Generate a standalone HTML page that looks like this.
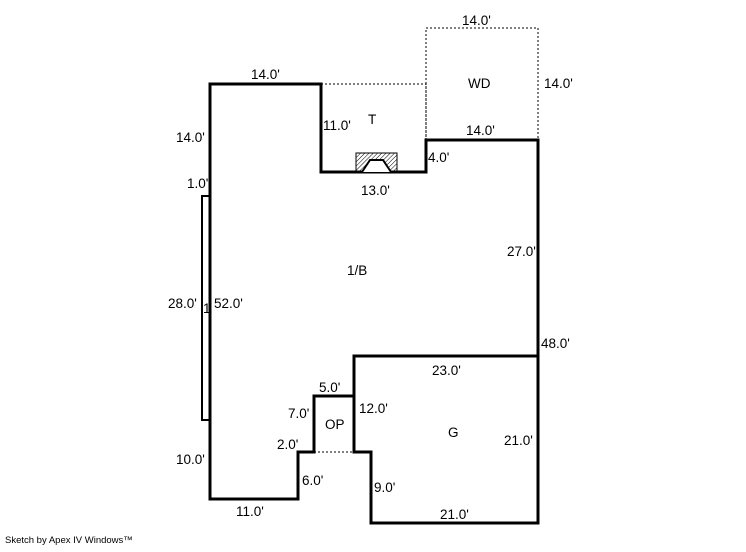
<!DOCTYPE html>
<html><head><style>
body{margin:0;background:#fff;}
svg text{font-family:"Liberation Sans",Arial,sans-serif;font-size:13.5px;fill:#000;}
</style></head><body>
<svg width="746" height="547" viewBox="0 0 746 547" xmlns="http://www.w3.org/2000/svg">
<defs><pattern id="h" width="3" height="3" patternUnits="userSpaceOnUse" patternTransform="rotate(45)"><line x1="0" y1="0" x2="0" y2="3" stroke="#000" stroke-width="1"/></pattern></defs>
<g fill="none" stroke="#000" stroke-width="1" stroke-dasharray="2,2">
<path d="M426,140 V28 H538 V140"/>
<path d="M321,84 H426 V140"/>
<path d="M314,452 H354"/>
</g>
<g fill="none" stroke="#000" stroke-width="3" stroke-linejoin="miter">
<path d="M210,84 H321 V172 H426 V140 H538 V523 H371 V452 H354 V396 H314 V452 H298 V499 H210 Z"/>
<path d="M354,396 V356 H538"/>
<rect x="202" y="196" width="8" height="224" stroke-width="2"/>
</g>
<rect x="356" y="153" width="41" height="19" fill="url(#h)" stroke="#000" stroke-width="1"/>
<path d="M362,172 L370,160 H383 L391,172" fill="#fff" stroke="#000" stroke-width="2"/>
<text x="251" y="79">14.0'</text>
<text x="176" y="142">14.0'</text>
<text x="187" y="188">1.0'</text>
<text x="168" y="308">28.0'</text>
<text x="203" y="313">1</text>
<text x="214" y="308">52.0'</text>
<text x="176" y="464">10.0'</text>
<text x="236" y="516">11.0'</text>
<text x="323" y="130">11.0'</text>
<text x="368" y="124">T</text>
<text x="361" y="195">13.0'</text>
<text x="428" y="162">4.0'</text>
<text x="462" y="25">14.0'</text>
<text x="468" y="88">WD</text>
<text x="544" y="88">14.0'</text>
<text x="466" y="135">14.0'</text>
<text x="507" y="256">27.0'</text>
<text x="347" y="275">1/B</text>
<text x="541" y="348">48.0'</text>
<text x="432" y="375">23.0'</text>
<text x="319" y="392">5.0'</text>
<text x="288" y="418">7.0'</text>
<text x="359" y="413">12.0'</text>
<text x="325" y="429">OP</text>
<text x="448" y="437">G</text>
<text x="504" y="445">21.0'</text>
<text x="277" y="449">2.0'</text>
<text x="302" y="485">6.0'</text>
<text x="374" y="492">9.0'</text>
<text x="440" y="519">21.0'</text>
<text x="5" y="543" style="font-size:9.5px">Sketch by Apex IV Windows™</text>
</svg>
</body></html>
